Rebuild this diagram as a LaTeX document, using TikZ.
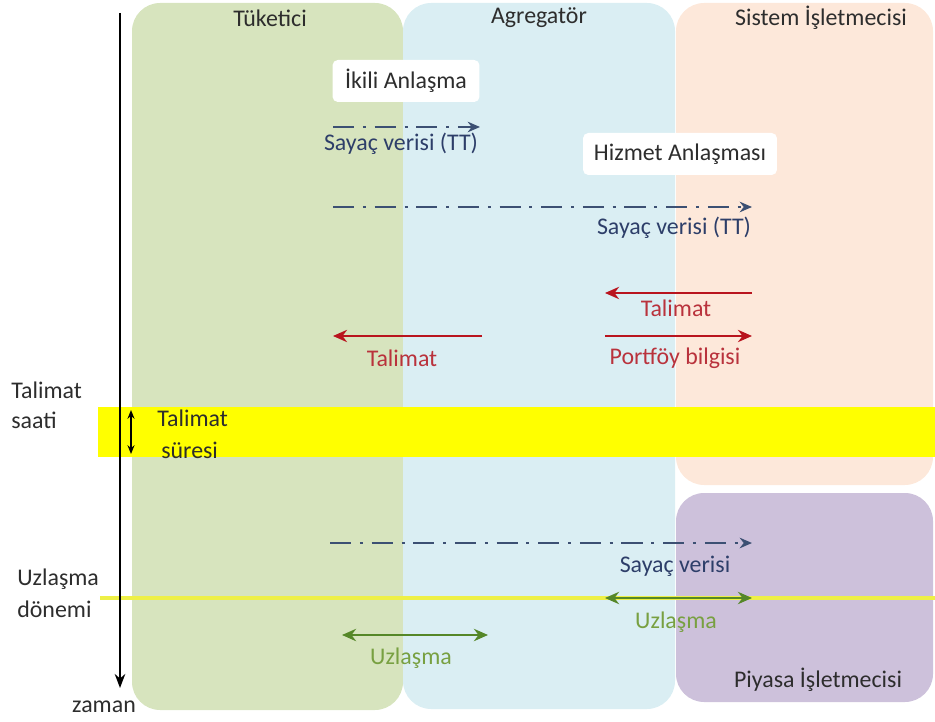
\documentclass[tikz,border=0pt]{standalone}
\usepackage{fontspec}
\setmainfont{Carlito}
\usepackage{tikz}
\usetikzlibrary{arrows.meta}

\definecolor{tukgreen}{RGB}{215,228,190}
\definecolor{agrblue}{RGB}{218,238,243}
\definecolor{sispeach}{RGB}{253,232,218}
\definecolor{piypurple}{RGB}{205,193,219}
\definecolor{bandyellow}{RGB}{255,255,0}
\definecolor{lineyellow}{RGB}{238,240,70}
\definecolor{datablue}{RGB}{60,80,115}
\definecolor{textblue}{RGB}{45,62,105}
\definecolor{cmdred}{RGB}{185,20,30}
\definecolor{txtred}{RGB}{185,50,60}
\definecolor{setgreen}{RGB}{85,135,40}
\definecolor{txtgreen}{RGB}{120,160,65}
\definecolor{headgray}{RGB}{45,45,45}

\tikzset{
  lbl/.style={font=\fontsize{13.6}{16}\selectfont, text=headgray, inner sep=0pt},
  lane/.style={rounded corners=16pt},
  tagbox/.style={lbl, fill=white, rounded corners=3pt, minimum height=0.84cm},
  datafl/.style={datablue, line width=1.7pt, dash pattern=on 12pt off 5pt on 1.7pt off 5pt, -{Stealth[length=7pt,width=6pt]}},
  cmdfl/.style={cmdred, line width=1.2pt, -{Stealth[length=8pt,width=7pt]}},
  setfl/.style={setgreen, line width=1.4pt, {Stealth[length=8pt,width=7pt]}-{Stealth[length=8pt,width=7pt]}}
}

\begin{document}
\begin{tikzpicture}[x=0.02cm,y=-0.02cm]
    \useasboundingbox (0,0) rectangle (935,722);
    % lanes
    \fill[lane, tukgreen] (132,3) rectangle (403,710);
    \fill[lane, agrblue] (403,3) rectangle (675,709);
    \fill[lane, sispeach] (676,3) rectangle (933,485);
    \fill[lane, piypurple] (676,493) rectangle (933,702);
    \fill[bandyellow] (98,407) rectangle (935,457);
    \draw[lineyellow, line width=2.3pt] (100,598) -- (935,598);

    \node[lbl] (tuk) at (270,18) {Tüketici};
    \node[lbl] (agr) at (539,18) {Agregatör};
    \node[lbl] (sis) at (821,18) {Sistem İşletmecisi};
    \node[lbl] (piy) at (818,680) {Piyasa İşletmecisi};

    % time axis
    \coordinate (ttop) at (120,13);
    \coordinate (tbot) at (120,688);
    \draw[line width=1.2pt, -{Stealth[length=8pt,width=6pt]}] (ttop) -- (tbot);
    \node[lbl] (zaman) at (104,707) {zaman};
    \node[lbl, align=left, anchor=west] (tsaat) at (11,405) {Talimat\\[1pt]saati};
    \node[lbl, align=left, anchor=west] (uzdon) at (17,593) {Uzlaşma\\[2pt]dönemi};
    \node[lbl, align=left, anchor=west] (tsure) at (157,434) {Talimat\\[2pt]\,süresi};
    \coordinate (sa) at (131,410);
    \coordinate (sb) at (131,454);
    \draw[line width=0.9pt, {Stealth[length=5pt,width=4pt]}-{Stealth[length=5pt,width=4pt]}] (sa) -- (sb);

    % agreements
    \node[tagbox, minimum width=2.94cm] (ikili) at (406,81) {İkili Anlaşma};
    \node[tagbox, minimum width=3.88cm] (hizmet) at (680,154) {Hizmet Anlaşması};

    % meter data
    \coordinate (d1a) at (333,127);
    \coordinate (d1b) at (480,127);
    \coordinate (d2a) at (333,207);
    \coordinate (d2b) at (752,207);
    \coordinate (d3a) at (330,543);
    \coordinate (d3b) at (752,543);
    \draw[datafl] (d1a) -- (d1b);
    \draw[datafl] (d2a) -- (d2b);
    \draw[datafl] (d3a) -- (d3b);
    \node[lbl, text=textblue] (sv1) at (401,144) {Sayaç verisi (TT)};
    \node[lbl, text=textblue] (sv2) at (674,228) {Sayaç verisi (TT)};
    \node[lbl, text=textblue] (sv3) at (675,566) {Sayaç verisi};

    % instructions
    \coordinate (r1a) at (752,293);
    \coordinate (r1b) at (605,293);
    \coordinate (r2a) at (605,336);
    \coordinate (r2b) at (752,336);
    \coordinate (r3a) at (482,336);
    \coordinate (r3b) at (333,336);
    \draw[cmdfl] (r1a) -- (r1b);
    \draw[cmdfl] (r2a) -- (r2b);
    \draw[cmdfl] (r3a) -- (r3b);
    \node[lbl, text=txtred] (tal1) at (676,308) {Talimat};
    \node[lbl, text=txtred] (port) at (675,358) {Portföy bilgisi};
    \node[lbl, text=txtred] (tal2) at (402,358) {Talimat};

    % settlement
    \coordinate (g1a) at (605,598);
    \coordinate (g1b) at (752,598);
    \coordinate (g2a) at (342,635);
    \coordinate (g2b) at (488,635);
    \draw[setfl] (g1a) -- (g1b);
    \draw[setfl] (g2a) -- (g2b);
    \node[lbl, text=txtgreen] (uz1) at (676,622) {Uzlaşma};
    \node[lbl, text=txtgreen] (uz2) at (411,658) {Uzlaşma};
  \end{tikzpicture}
\end{document}
